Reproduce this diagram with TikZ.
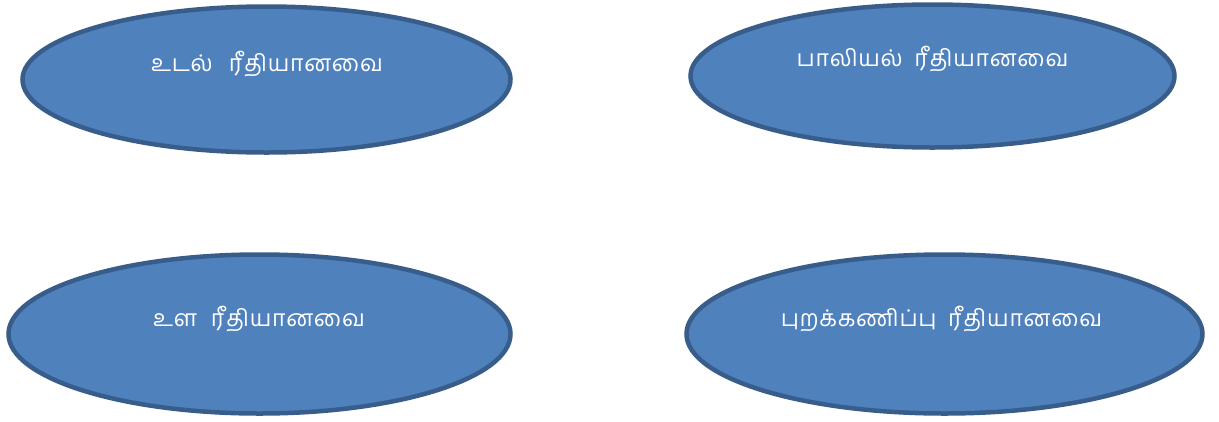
\documentclass[tikz,border=0pt]{standalone}
\usepackage{fontspec}
\newfontfamily\tamilfont[Script=Tamil,LetterSpace=3]{Hind Madurai}
\usetikzlibrary{shapes.geometric}
\definecolor{efill}{HTML}{4F81BD}
\definecolor{eline}{HTML}{385D8A}
\tikzset{
  oval/.style={ellipse, draw=eline, fill=efill, line width=4.5pt, inner sep=0pt},
  lbl/.style={text=white, font=\tamilfont\fontsize{23}{27}\selectfont, inner sep=0pt}
}
\begin{document}
\begin{tikzpicture}[x=1pt,y=-1pt]
\useasboundingbox (0,0) rectangle (1219,421);
\node[oval, minimum width=488pt, minimum height=146pt] (e1) at (266.5,79.5) {};
\node[oval, minimum width=484pt, minimum height=143pt] (e2) at (932.5,76) {};
\node[oval, minimum width=502pt, minimum height=159pt] (e3) at (259.5,334) {};
\node[oval, minimum width=516pt, minimum height=159pt] (e4) at (944.5,334) {};
\node[lbl] (t1) at (267,64) {உடல்\hspace{0.7em}ரீதியானவை};
\node[lbl] (t2) at (932.5,59) {பாலியல்\hspace{0.5em}ரீதியானவை};
\node[lbl] (t3) at (259,319) {உள\hspace{0.6em}ரீதியானவை};
\node[lbl] (t4) at (941.5,319) {புறக்கணிப்பு\hspace{0.5em}ரீதியானவை};
\end{tikzpicture}
\end{document}
